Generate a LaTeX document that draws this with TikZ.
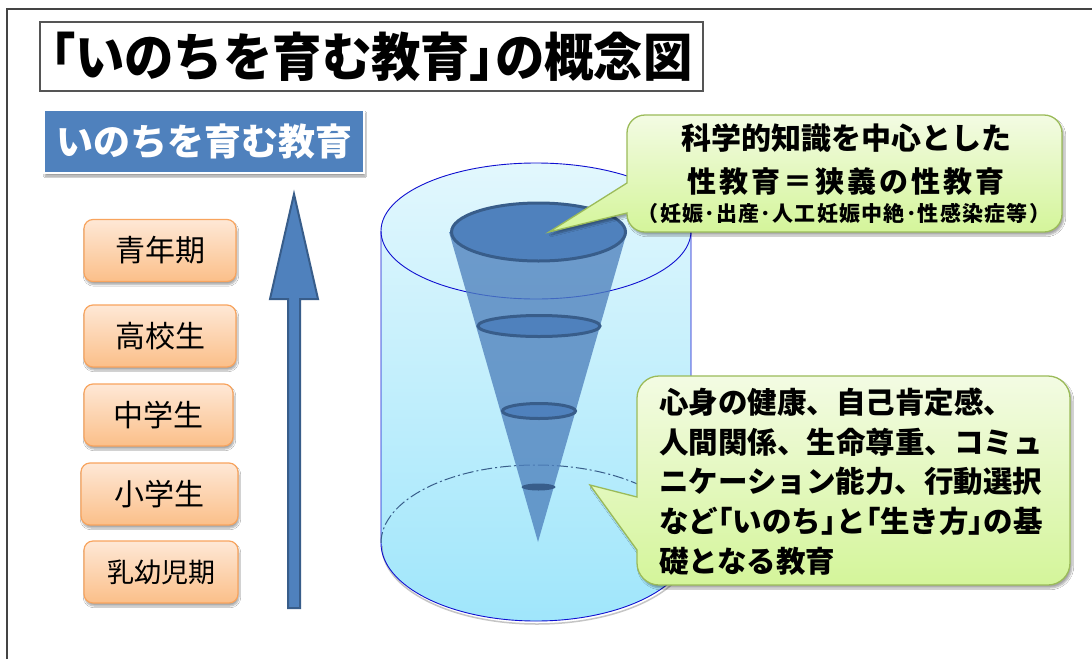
\documentclass[tikz,border=0pt]{standalone}
\usepackage{fontspec}
\usepackage{graphicx}
\usetikzlibrary{shadows.blur}
\newfontfamily\jp{Noto Sans CJK JP}
\newcommand{\pb}[1]{{\addfontfeature{RawFeature=+palt}#1}}

\definecolor{frameline}{HTML}{444444}
\definecolor{titleline}{HTML}{555555}
\definecolor{bluefill}{HTML}{4F81BD}
\definecolor{blueline}{HTML}{385D8A}
\definecolor{agetop}{HTML}{FEE8D6}
\definecolor{agebot}{HTML}{FBBF89}
\definecolor{ageline}{HTML}{F8A45E}
\definecolor{cyltop}{HTML}{E2F7FD}
\definecolor{cylbot}{HTML}{A0E6FB}
\definecolor{cylline}{HTML}{1010D0}
\definecolor{greentop}{HTML}{F3FBE3}
\definecolor{greenbot}{HTML}{D4F59A}
\definecolor{greenline}{HTML}{9BBB59}

\tikzset{
  agebox/.style={draw=ageline, line width=1.2pt, rounded corners=9pt,
    top color=agetop, bottom color=agebot, minimum width=152pt, minimum height=62pt,
    font=\jp\fontsize{30}{30}\selectfont, text=black,
    blur shadow={shadow xshift=1pt, shadow yshift=-3pt, shadow blur steps=6, shadow opacity=35}},
  calloutbox/.style={draw=greenline, line width=1.3pt, top color=greentop, bottom color=greenbot,
    blur shadow={shadow xshift=2pt, shadow yshift=-3pt, shadow blur steps=6, shadow opacity=35}},
  ringshape/.style={draw=blueline, line width=3pt, fill=bluefill},
  calltext/.style={inner sep=0pt, text=black, font=\jp\bfseries\fontsize{29.5}{29.5}\selectfont},
}

\begin{document}
\begin{tikzpicture}[x=1pt, y=-1pt]
\useasboundingbox (0,0) rectangle (1092,659);
\fill[white] (0,0) rectangle (1092,659);

% page frame
\draw[frameline, line width=2pt] (7,659) -- (7,8.5) -- (1092,8.5);

% title
\node[draw=titleline, line width=1.5pt, fill=white, minimum width=663pt, minimum height=69pt,
  inner sep=0pt] (title) at (371.5,56.5)
  {\scalebox{0.95}[1]{\jp\bfseries\fontsize{52}{52}\selectfont \pb{「}いのちを育む教育\pb{」}の概念図}};

% blue heading box
\node[draw=white, line width=2.5pt, fill=bluefill, minimum width=320pt, minimum height=63pt,
  text=white, font=\jp\bfseries\fontsize{37}{37}\selectfont,
  blur shadow={shadow xshift=1pt, shadow yshift=-3pt, shadow blur steps=6, shadow opacity=40}]
  (head) at (204,141.5) {いのちを育む教育};

% school stages
\node[agebox] (s5) at (160,250.5) {青年期};
\node[agebox] (s4) at (160,336) {高校生};
\node[agebox, minimum width=149pt] (s3) at (158.5,415) {中学生};
\node[agebox, minimum width=157pt] (s2) at (159.5,494) {小学生};
\node[agebox, minimum width=154pt, font=\jp\fontsize{27}{27}\selectfont] (s1) at (161,572) {乳幼児期};

% growth arrow
\draw[blueline, line width=2pt, fill=bluefill, line join=miter]
  (288,608) -- (288,299) -- (270,299) -- (294,194) -- (318,299) -- (300,299) -- (300,608) -- cycle;

% cylinder body
\shade[top color=cyltop, bottom color=cylbot]
  (381,231) -- (381,543) arc[start angle=180, end angle=360, x radius=155pt, y radius=78pt]
  -- (691,231) arc[start angle=0, end angle=180, x radius=155pt, y radius=68pt] -- cycle;
\draw[black!45, line width=1.5pt, opacity=0.5]
  (382,546) arc[start angle=180, end angle=360, x radius=155pt, y radius=78pt];
\draw[cylline, line width=0.9pt]
  (381,231) -- (381,543) arc[start angle=180, end angle=360, x radius=155pt, y radius=78pt] -- (691,231);
\draw[blueline, line width=1pt, dash pattern=on 11pt off 3pt on 2pt off 3pt]
  (381,543) arc[start angle=180, end angle=0, x radius=155pt, y radius=78pt];
\draw[cylline, line width=0.9pt] (536,231) ellipse[x radius=155pt, y radius=68pt];

% cone
\fill[bluefill, fill opacity=0.78] (449,232) -- (538,542) -- (627,232) -- cycle;
\draw[ringshape] (538.5,232) ellipse[x radius=87pt, y radius=29pt];
\draw[ringshape] (539,326) ellipse[x radius=61pt, y radius=10.5pt];
\draw[ringshape] (539,411) ellipse[x radius=36.5pt, y radius=7.5pt];
\fill[blueline] (538.5,487) ellipse[x radius=17pt, y radius=3.5pt];

% upper callout
\path[calloutbox]
  (627,183) -- (627,133) arc[start angle=180, end angle=90, radius=18pt]
  -- (1044,115) arc[start angle=90, end angle=0, radius=18pt]
  -- (1062,214) arc[start angle=0, end angle=-90, radius=18pt]
  -- (645,232) arc[start angle=270, end angle=180, radius=18pt]
  -- (627,213) -- (549,232) -- cycle;
\node[inner sep=0pt, font=\jp\bfseries\fontsize{30}{30}\selectfont] (c1a) at (846,138)
  {科学的知識を中心とした};
\node[inner sep=0pt, font=\jp\bfseries\fontsize{29}{29}\selectfont\addfontfeature{LetterSpace=10}] (c1b) at (846,182)
  {性教育＝狭義の性教育};
\node[inner sep=0pt, font=\jp\bfseries\fontsize{21}{21}\selectfont\addfontfeature{LetterSpace=6}] (c1c) at (844,213)
  {（妊娠･出産･人工妊娠中絶･性感染症等）};

% lower callout
\path[calloutbox]
  (637,497) -- (637,398) arc[start angle=180, end angle=90, radius=22pt]
  -- (1048,376) arc[start angle=90, end angle=0, radius=22pt]
  -- (1070,563) arc[start angle=0, end angle=-90, radius=22pt]
  -- (659,585) arc[start angle=270, end angle=180, radius=22pt]
  -- (637,550) -- (590,485) -- cycle;
\node[calltext, anchor=base west] (c2a) at (659,413.5) {心身の健康、自己肯定感、};
\node[calltext, anchor=base west] (c2b) at (659,453) {人間関係、生命尊重、コミュ};
\node[calltext, anchor=base west] (c2c) at (659,492.5) {ニケーション能力、行動選択};
\node[calltext, anchor=base west] (c2d) at (659,532) {など\pb{「}いのち\pb{」}と\pb{「}生き方\pb{」}の基};
\node[calltext, anchor=base west] (c2e) at (659,572) {礎となる教育};
\end{tikzpicture}
\end{document}
